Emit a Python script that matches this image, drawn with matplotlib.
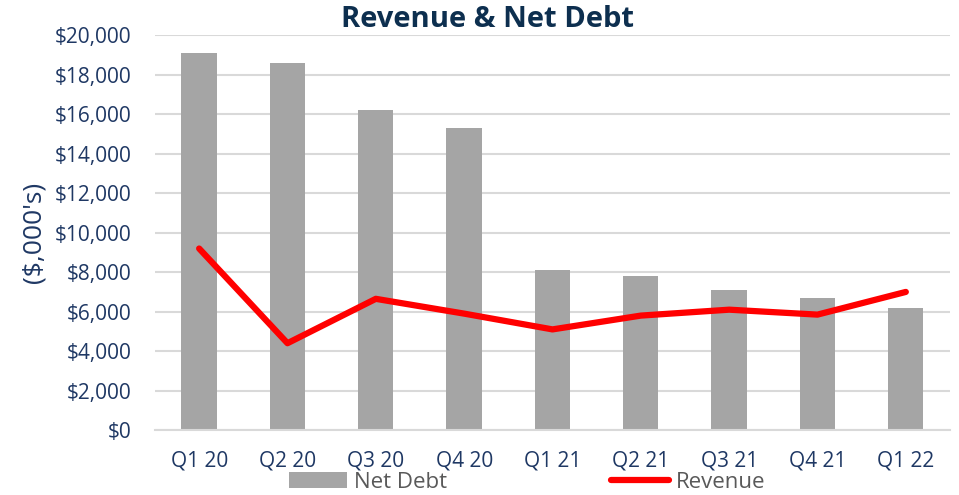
import matplotlib
matplotlib.use("Agg")
import matplotlib.pyplot as plt
from matplotlib.patches import Patch
from matplotlib.lines import Line2D
from matplotlib.ticker import FuncFormatter, MultipleLocator

quarters = ["Q1 20", "Q2 20", "Q3 20", "Q4 20", "Q1 21", "Q2 21", "Q3 21", "Q4 21", "Q1 22"]
net_debt = [19100, 18600, 16200, 15300, 8100, 7800, 7100, 6700, 6200]
revenue = [9200, 4400, 6650, 5900, 5100, 5800, 6100, 5850, 7000]

navy = "#1f3864"
font = "Open Sans"

fig = plt.figure(figsize=(9.59, 4.95), dpi=100)
ax = fig.add_axes([0.1616, 0.1313, 0.8290, 0.7970])

x = list(range(len(quarters)))
ax.bar(x, net_debt, width=0.4, color="#a5a5a5", zorder=2)
ax.plot(x, revenue, color="#ff0000", lw=4.5, solid_capstyle="round", zorder=3)

ax.set_xlim(-0.5, len(quarters) - 0.5)
ax.set_ylim(0, 20000)
ax.yaxis.set_major_locator(MultipleLocator(2000))
ax.yaxis.set_major_formatter(FuncFormatter(lambda v, p: f"${v:,.0f}"))
ax.grid(axis="y", color="#d9d9d9", lw=1.5, zorder=0)
ax.set_axisbelow(True)
for s in ["top", "right", "left"]:
    ax.spines[s].set_visible(False)
ax.spines["bottom"].set_color("#d9d9d9")
ax.spines["bottom"].set_linewidth(1.5)
ax.tick_params(axis="both", length=0, labelsize=15, labelcolor=navy)
ax.tick_params(axis="x", pad=15)
ax.tick_params(axis="y", pad=17)
ax.set_xticks(x)
ax.set_xticklabels(quarters)
for lab in ax.get_xticklabels() + ax.get_yticklabels():
    lab.set_fontfamily(font)

fig.text(0.035, 0.531, "($,000's)", rotation=90, ha="center", va="center",
         fontsize=19, color=navy, fontfamily=font)
fig.text(0.508, 0.960, "Revenue & Net Debt", ha="center", va="center",
         fontsize=21, fontweight="bold", color="#0d2f4f", fontfamily=font)

handles = [Patch(facecolor="#a5a5a5", edgecolor="none"),
           Line2D([0], [0], color="#ff0000", lw=4.5, solid_capstyle="round")]
leg = fig.legend(handles, ["Net Debt", "Revenue"], loc="center", ncol=2,
                 bbox_to_anchor=(0.55, 0.026), frameon=False, columnspacing=7.4,
                 handlelength=2.6, handletextpad=0.3, borderpad=0,
                 prop={"family": font, "size": 16})
for t in leg.get_texts():
    t.set_color("#595959")

fig.savefig("out.png", dpi=100)
